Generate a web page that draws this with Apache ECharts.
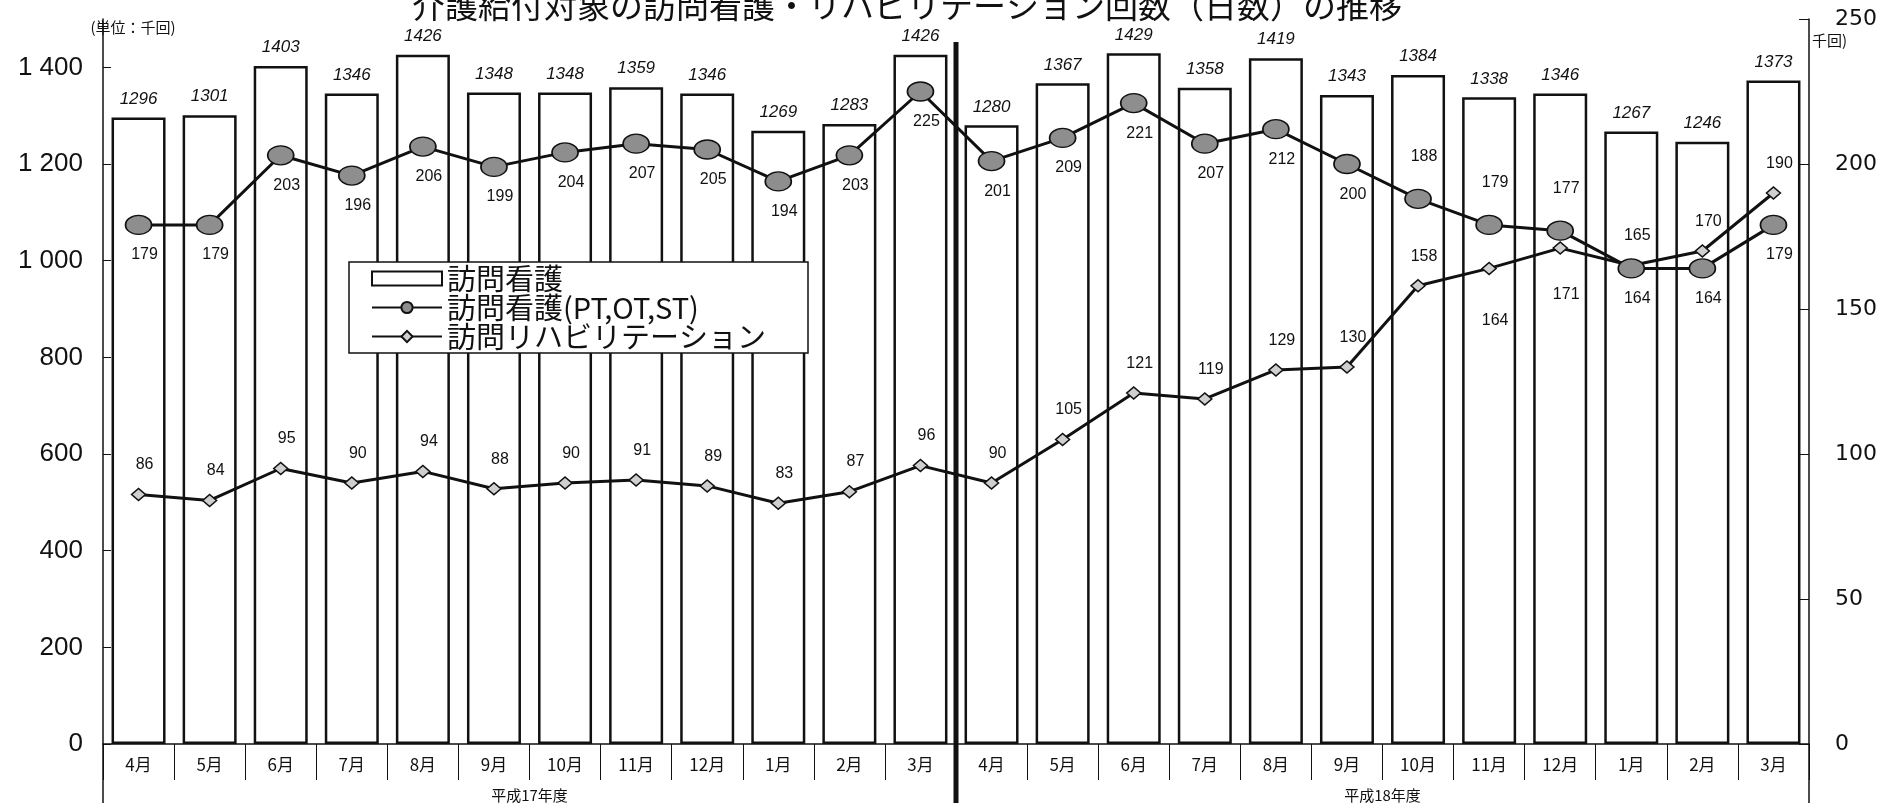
<!DOCTYPE html>
<html>
<head>
<meta charset="utf-8">
<script src="https://cdn.jsdelivr.net/npm/echarts@6/dist/echarts.min.js"></script>
<style>
  html, body { margin: 0; padding: 0; background: #fff; }
  #chart { width: 1890px; height: 803px; }
</style>
</head>
<body>
<div id="chart"></div>
<script>
// Monthly counts (thousands), fiscal years H17 and H18
const months = ['4月', '5月', '6月', '7月', '8月', '9月', '10月', '11月', '12月', '1月', '2月', '3月'];
const fiscalYears = ['平成17年度', '平成18年度'];
const categories = months.concat(months);

const nursingVisits = [1296, 1301, 1403, 1346, 1426, 1348, 1348, 1359, 1346, 1269, 1283, 1426,
                       1280, 1367, 1429, 1358, 1419, 1343, 1384, 1338, 1346, 1267, 1246, 1373];
const nursingTherapy = [179, 179, 203, 196, 206, 199, 204, 207, 205, 194, 203, 225,
                        201, 209, 221, 207, 212, 200, 188, 179, 177, 164, 164, 179];
const homeRehab = [86, 84, 95, 90, 94, 88, 90, 91, 89, 83, 87, 96,
                   90, 105, 121, 119, 129, 130, 158, 164, 171, 165, 170, 190];

const leftTicks = [0, 200, 400, 600, 800, 1000, 1200, 1400];
const rightTicks = [0, 50, 100, 150, 200, 250];

// points whose value label sits on the other side of the marker
const therapyLabelAbove = [18, 19, 20];
const rehabLabelBelow = { 19: 37, 20: 32 };

const INK = '#111';
const JP = '"Noto Sans CJK JP", "Noto Sans", sans-serif';
const NUM = '"Liberation Sans", Arial, sans-serif';

function spaced(v) {
  if (v < 1000) return String(v);
  return Math.floor(v / 1000) + ' ' + String(v % 1000).padStart(3, '0');
}

const chart = echarts.init(document.getElementById('chart'), null, { renderer: 'canvas' });

const therapyData = nursingTherapy.map((v, i) =>
  therapyLabelAbove.includes(i) ? { value: v, label: { position: 'top', distance: 24 } } : v);
const rehabData = homeRehab.map((v, i) =>
  rehabLabelBelow[i] !== undefined ? { value: v, label: { position: 'bottom', distance: rehabLabelBelow[i] } } : v);

chart.setOption({
  animation: false,
  backgroundColor: '#fff',
  grid: { left: 103, right: 81, top: 19, bottom: 59, containLabel: false, outerBoundsMode: 'none' },
  legend: {
    orient: 'vertical',
    left: 349,
    top: 262,
    data: [
      { name: '訪問看護', icon: 'rect' },
      { name: '訪問看護(PT,OT,ST)' },
      { name: '訪問リハビリテーション' }
    ],
    selectedMode: false,
    itemWidth: 70,
    itemHeight: 14,
    itemGap: 0,
    padding: [2, 42, 2, 22],
    backgroundColor: '#fff',
    borderColor: INK,
    borderWidth: 1.5,
    textStyle: { fontFamily: JP, fontSize: 29, lineHeight: 26, height: 26, color: INK }
  },
  xAxis: {
    type: 'category',
    data: categories,
    boundaryGap: true,
    axisLine: { lineStyle: { color: INK, width: 1.5 } },
    axisTick: { show: true, interval: 0, length: 36, alignWithLabel: false, lineStyle: { color: INK, width: 1 } },
    axisLabel: { interval: 0, margin: 12, fontFamily: JP, fontSize: 17, color: INK },
    splitLine: { show: false }
  },
  yAxis: [
    {
      type: 'value',
      min: 0, max: 1500, interval: 100,
      axisLine: { show: true, lineStyle: { color: INK, width: 1.5 } },
      axisTick: { show: true, inside: true, length: 8, customValues: leftTicks, lineStyle: { color: INK } },
      axisLabel: { customValues: leftTicks, margin: 20, fontFamily: NUM, fontSize: 26, color: INK, formatter: spaced },
      splitLine: { show: false }
    },
    {
      type: 'value',
      min: 0, max: 250, interval: 50,
      position: 'right',
      axisLine: { show: true, lineStyle: { color: INK, width: 1.5 } },
      axisTick: { show: true, inside: true, length: 10, customValues: rightTicks, lineStyle: { color: INK } },
      axisLabel: { customValues: rightTicks, margin: 26, fontFamily: '"DejaVu Sans", sans-serif', fontSize: 22, color: INK },
      splitLine: { show: false }
    }
  ],
  series: [
    {
      name: '訪問看護',
      type: 'bar',
      data: nursingVisits,
      barWidth: 54,
      itemStyle: { color: '#fff', borderColor: INK, borderWidth: 2.5 },
      label: { show: true, position: 'top', distance: 10, fontFamily: NUM, fontStyle: 'italic', fontSize: 17, color: INK },
      z: 2
    },
    {
      name: '訪問リハビリテーション',
      type: 'line',
      yAxisIndex: 1,
      data: rehabData,
      symbol: 'diamond',
      symbolSize: [14, 12],
      lineStyle: { color: INK, width: 3 },
      itemStyle: { color: '#cfcfcf', borderColor: INK, borderWidth: 1.5 },
      label: { show: true, position: 'top', distance: 15, offset: [6, 0], fontFamily: NUM, fontSize: 16, color: INK },
      z: 3
    },
    {
      name: '訪問看護(PT,OT,ST)',
      type: 'line',
      yAxisIndex: 1,
      data: therapyData,
      symbol: 'circle',
      symbolSize: [26, 19],
      lineStyle: { color: INK, width: 3 },
      itemStyle: { color: '#8e8e8e', borderColor: INK, borderWidth: 1.5 },
      label: { show: true, position: 'bottom', distance: 12, offset: [6, 0], fontFamily: NUM, fontSize: 16, color: INK },
      z: 4
    }
  ]
});

// frame lines below the plot, the fiscal-year divider and the text around the plot
const px = i => chart.convertToPixel({ xAxisIndex: 0 }, i);
const band = px(1) - px(0);
const xLeft = px(0) - band / 2;
const xRight = px(categories.length - 1) + band / 2;
const xDivide = (px(11) + px(12)) / 2;
const yBase = chart.convertToPixel({ yAxisIndex: 0 }, 0);
const H = 803;

const lineEl = (x, y1, y2, w) => ({
  type: 'line', silent: true, z: 10,
  shape: { x1: x, y1: y1, x2: x, y2: y2 },
  style: { stroke: INK, lineWidth: w }
});
const textEl = (x, y, text, font, align, vAlign) => ({
  type: 'text', silent: true, z: 10, x: x, y: y,
  style: { text: text, font: font, fill: INK, align: align, verticalAlign: vAlign }
});

chart.setOption({
  graphic: [
    lineEl(xLeft, yBase, H, 1.5),
    lineEl(xRight, yBase, H, 1.5),
    lineEl(xDivide, 42, H, 5),
    textEl((px(0) + px(11)) / 2, 795, fiscalYears[0], '15px ' + JP, 'center', 'middle'),
    textEl((px(12) + px(23)) / 2, 795, fiscalYears[1], '15px ' + JP, 'center', 'middle'),
    textEl(907, 22, '介護給付対象の訪問看護・リハビリテーション回数（日数）の推移', '33px ' + JP, 'center', 'bottom'),
    textEl(133, 27, '(単位：千回)', '15px ' + JP, 'center', 'middle'),
    textEl(xRight + 3, 40, '千回)', '15px ' + JP, 'left', 'middle')
  ]
});
</script>
</body>
</html>
